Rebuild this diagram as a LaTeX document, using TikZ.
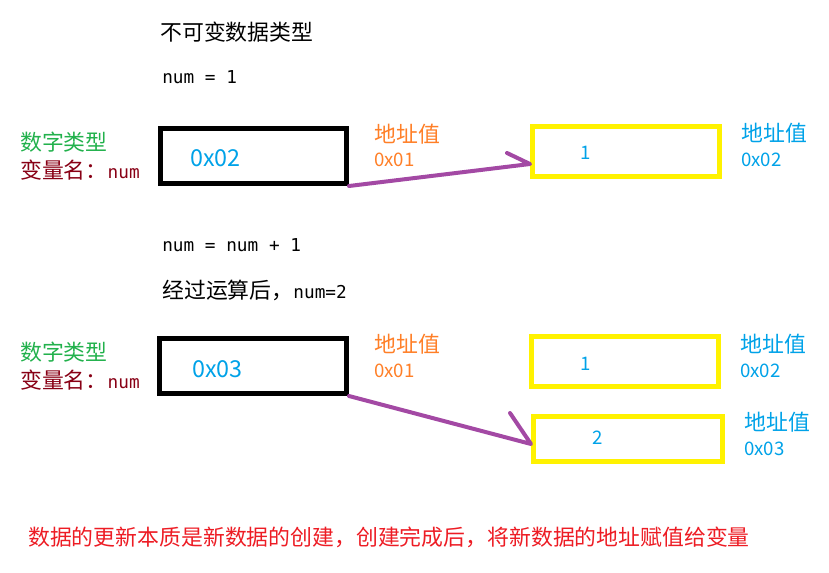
\documentclass[tikz,border=0pt]{standalone}
\usepackage{fontspec}
\setmainfont{Noto Sans CJK SC}
\newfontfamily\monof{DejaVu Sans Mono}
\usetikzlibrary{calc}
\definecolor{pgreen}{HTML}{22B14C}
\definecolor{pdred}{HTML}{880015}
\definecolor{porange}{HTML}{FF7F27}
\definecolor{pblue}{HTML}{00A2E8}
\definecolor{pyellow}{HTML}{FFF200}
\definecolor{ppurple}{HTML}{A349A4}
\definecolor{pred}{HTML}{ED1C24}
\newcommand{\cnf}{\fontsize{16.4}{18}\selectfont}
\newcommand{\mnf}{\monof\fontsize{13.3}{15}\selectfont}
\tikzset{
  lbl/.style={anchor=west, inner sep=0pt, font=\cnf},
  mono/.style={anchor=west, inner sep=0pt, font=\mnf},
  numl/.style={anchor=west, inner sep=0pt, font=\fontsize{14}{16}\selectfont},
  boxtxt/.style={anchor=west, inner sep=0pt, text=pblue, font=\fontsize{17.5}{20}\selectfont},
  valtxt/.style={anchor=west, inner sep=0pt, text=pblue, font=\fontsize{14}{16}\selectfont},
  membox/.style={draw, line width=3.75pt, inner sep=0pt},
  varbox/.style={membox, draw=black},
  valbox/.style={membox, draw=pyellow},
  arr/.style={draw=ppurple, line width=3pt, line cap=round, line join=round}
}
\begin{document}
\begin{tikzpicture}[x=0.75pt,y=-0.75pt]
\useasboundingbox (0,0) rectangle (829,572);
% titles
\node[lbl] (title) at (160,32) {不可变数据类型};
\node[mono] (eq1) at (162,77) {num = 1};
\node[mono] (eq2) at (162,245) {num = num + 1};
\node[lbl] (calc) at (162,290) {经过运算后，{\mnf num=2}};
% first row
\node[lbl, text=pgreen] (type1) at (20,142) {数字类型};
\node[lbl, text=pdred] (name1) at (20,170) {变量名：{\mnf num}};
\node[varbox, minimum width=139.5pt, minimum height=41.25pt] (box1) at (253.5,156) {};
\node[boxtxt] (b1t) at (190,158) {0x02};
\node[lbl, text=porange] (addr1) at (374,134) {地址值};
\node[numl, text=porange] (addr1v) at (374,160) {0x01};
\node[valbox, minimum width=140.25pt, minimum height=37.5pt] (val1) at (626,151.5) {};
\node[valtxt] (v1t) at (580,153) {1};
\node[lbl, text=pblue] (addr2) at (741,133) {地址值};
\node[numl, text=pblue] (addr2v) at (741,160) {0x02};
% second row
\node[lbl, text=pgreen] (type2) at (20,352) {数字类型};
\node[lbl, text=pdred] (name2) at (20,380) {变量名：{\mnf num}};
\node[varbox, minimum width=140.25pt, minimum height=41.25pt] (box2) at (253,366) {};
\node[boxtxt] (b2t) at (192,369) {0x03};
\node[lbl, text=porange] (addr3) at (374,344) {地址值};
\node[numl, text=porange] (addr3v) at (374,371) {0x01};
\node[valbox, minimum width=140.25pt, minimum height=37.5pt] (val2) at (625,361.5) {};
\node[valtxt] (v2t) at (580,364) {1};
\node[lbl, text=pblue] (addr4) at (740,344) {地址值};
\node[numl, text=pblue] (addr4v) at (740,371) {0x02};
\node[valbox, minimum width=141.75pt, minimum height=33.75pt] (val3) at (628,439) {};
\node[valtxt] (v3t) at (592,438) {2};
\node[lbl, text=pblue] (addr5) at (744,422) {地址值};
\node[numl, text=pblue] (addr5v) at (744,449) {0x03};
% arrows
\coordinate (tip1) at ($(val1.west)+(0,12.5)$);
\coordinate (barb1) at ($(tip1)+(-23,-11)$);
\draw[arr] (box1.south east) -- (tip1) -- (barb1);
\coordinate (tip2) at ($(val3.west)+(0,5)$);
\coordinate (barb2) at ($(tip2)+(-21,-31)$);
\draw[arr] (box2.south east) -- (tip2) -- (barb2);
% footer
\node[lbl, text=pred] (note) at (28,537) {数据的更新本质是新数据的创建，创建完成后，将新数据的地址赋值给变量};
\end{tikzpicture}
\end{document}
